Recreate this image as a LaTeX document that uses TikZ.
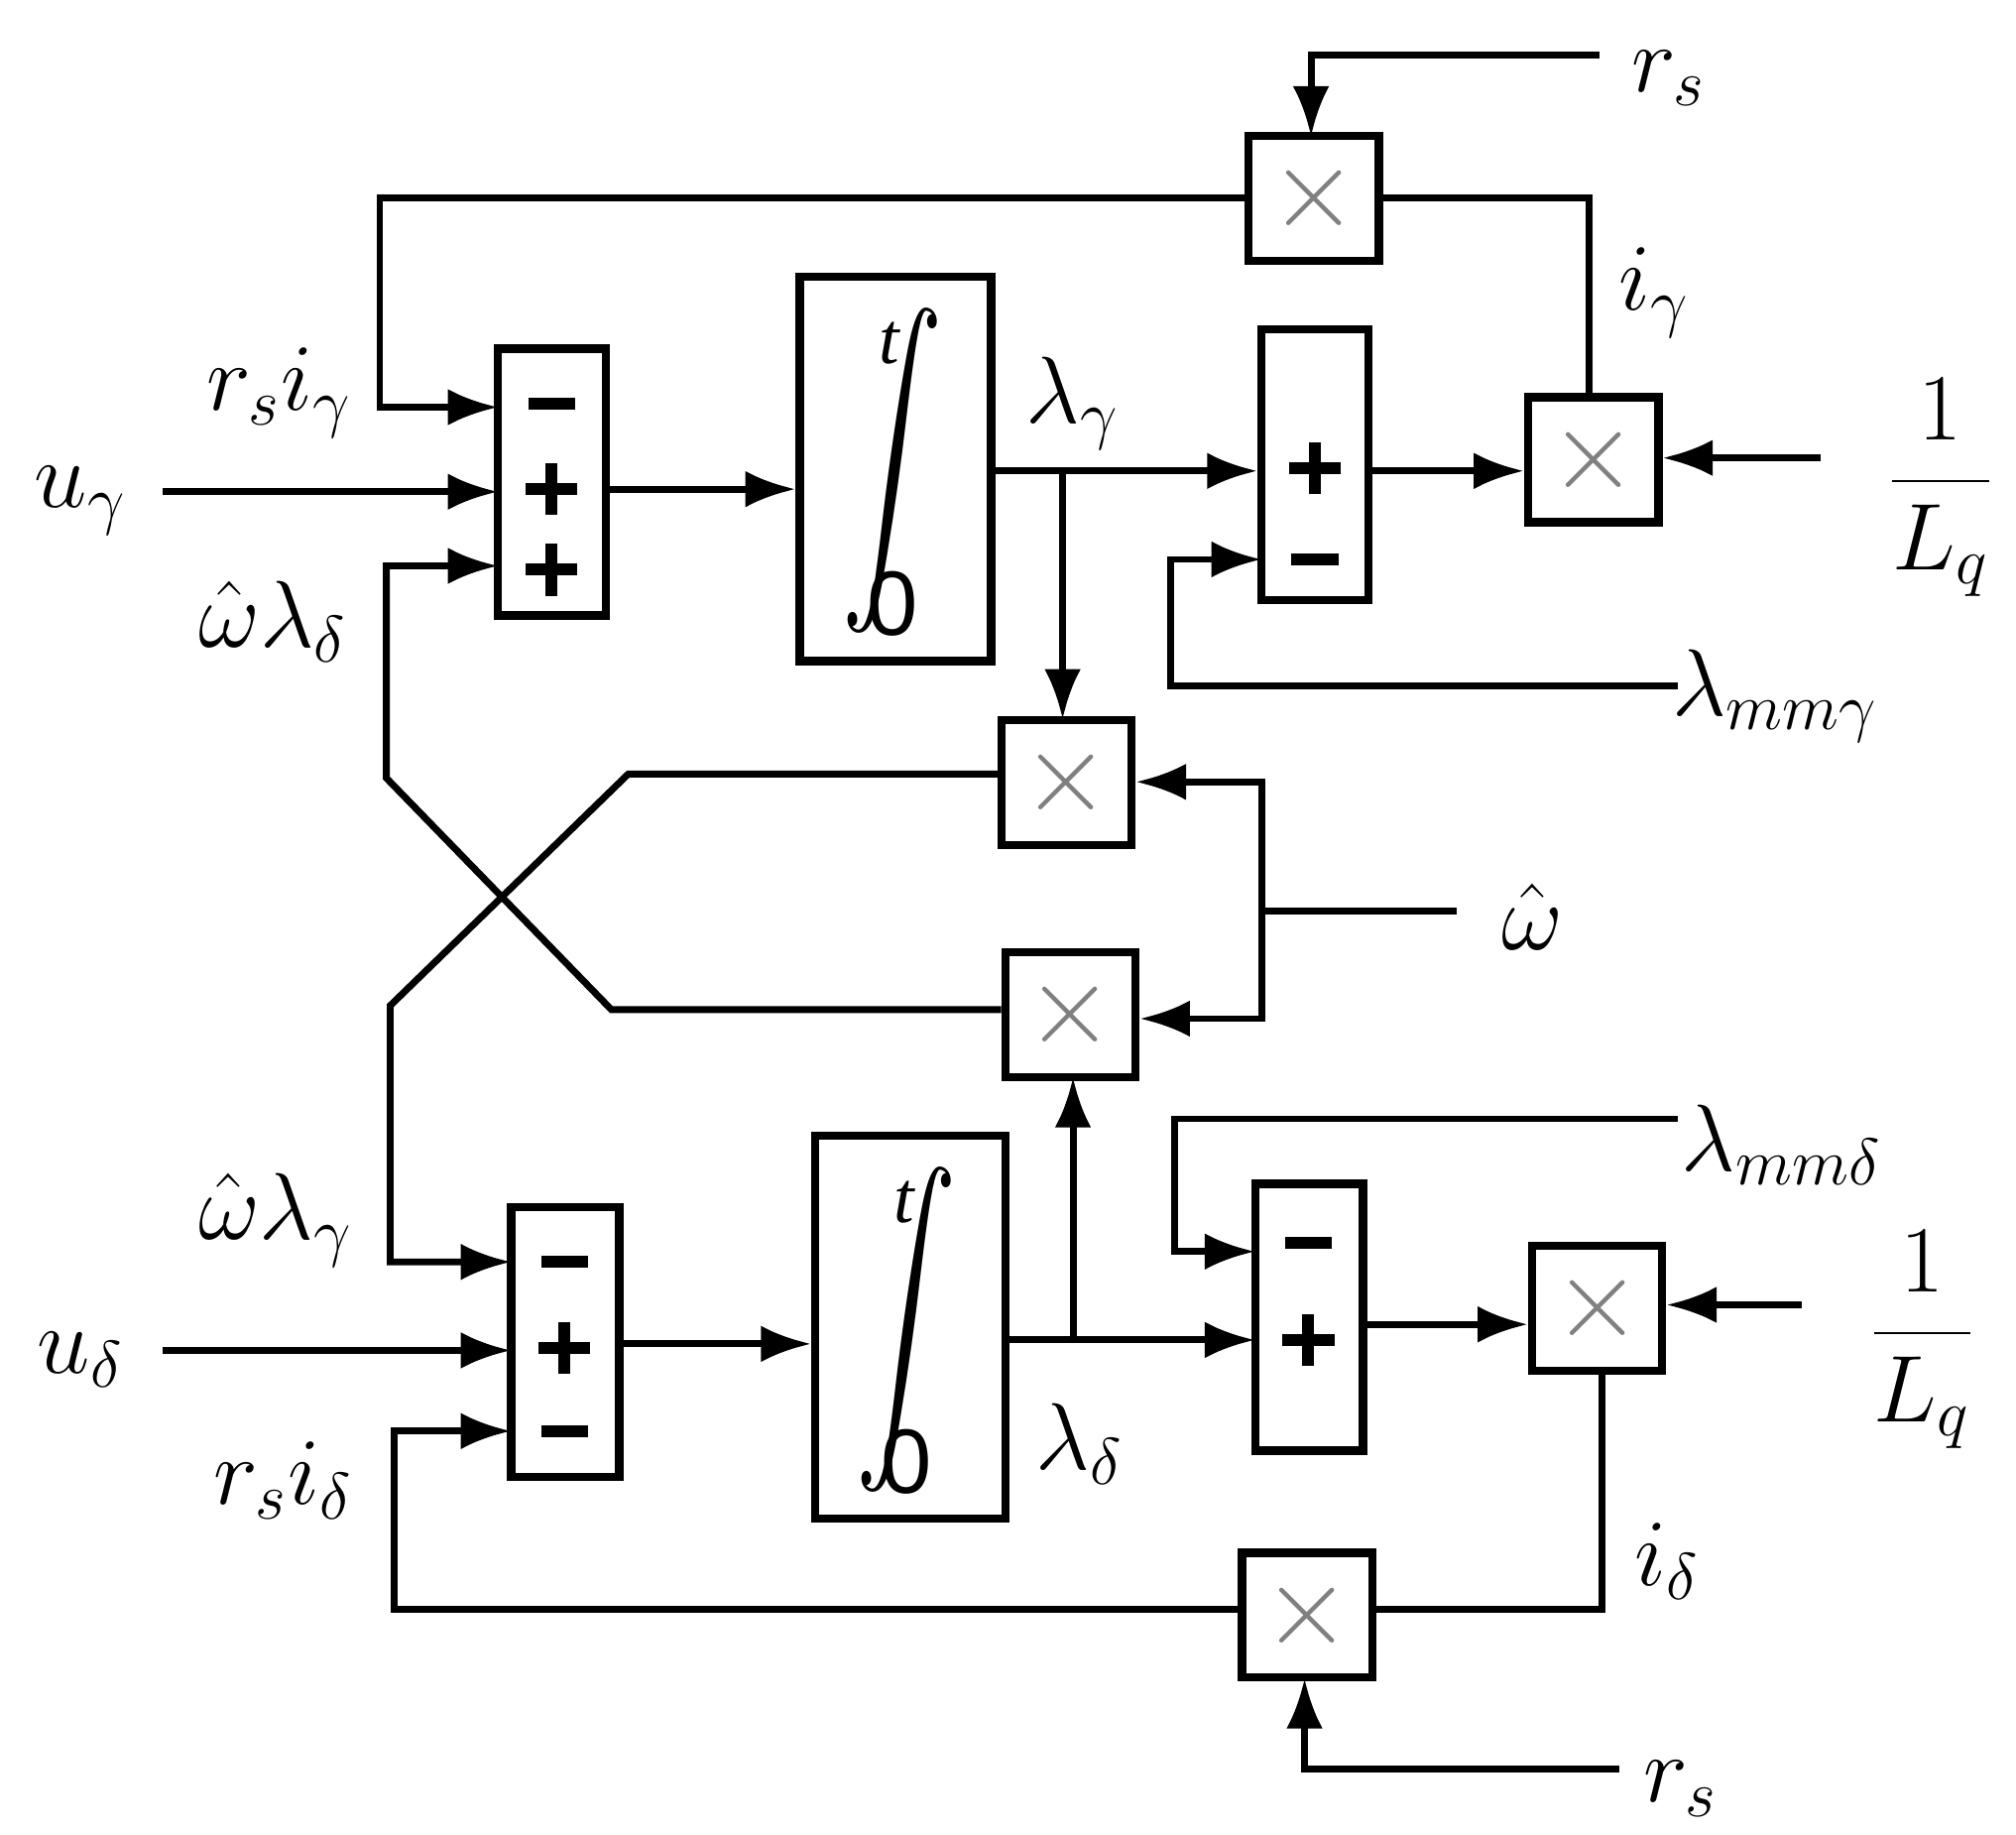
\documentclass[tikz,border=0pt]{standalone}
\usepackage{fontspec}
\setmainfont{Liberation Serif}
\newfontfamily\sgn{Liberation Sans}
\usetikzlibrary{arrows.meta}
\begin{document}
\begin{tikzpicture}[x={(0.01cm,0)},y={(0,-0.01cm)},line width=1.5pt,
 box/.style={draw,line width=1.8pt,inner sep=0pt},
 mul/.style={box,minimum width=1cm,minimum height=0.96cm,font=\fontsize{30}{30}\selectfont\color{gray}},
 ar/.style={-{Latex[length=11pt,width=8pt]}},
 lab/.style={font=\fontsize{22}{26}\selectfont\itshape},
 plus/.pic={\draw[line width=2.6pt] (-20,0)--(20,0) (0,-20)--(0,20);},
 minus/.pic={\draw[line width=2.6pt] (-18,0)--(18,0);},
 integ/.pic={\node[font=\fontsize{16}{16}\selectfont\itshape] at (-4,-98) {t};
   \node at (-2,0) {\scalebox{2.2}[3.2]{$\displaystyle\int$}};
   \node[font=\sgn\fontsize{20}{20}\selectfont] at (-2,102) {0};}]
\useasboundingbox (0,0) rectangle (1550,1410);
% blocks top
\node[box,minimum width=0.83cm,minimum height=2.05cm] (s1) at (424.5,370.5) {};
\pic at (424,310) {minus}; \pic at (424,376) {plus}; \pic at (424,438) {plus};
\node[box,minimum width=1.47cm,minimum height=2.95cm] (i1) at (688.5,360.5) {};
\pic at (688,362) {integ};
\node[box,minimum width=0.82cm,minimum height=2.08cm] (s2) at (1011,357) {};
\pic at (1011,360) {plus}; \pic at (1011,430) {minus};
\node[mul] (m1) at (1225,353.5) {$\times$};
\node[mul] (mr1) at (1010,152.5) {$\times$};
\node[mul] (mc1) at (820,601.5) {$\times$};
\node[mul] (mc2) at (823,780) {$\times$};
% bottom
\node[box,minimum width=0.83cm,minimum height=2.07cm] (s3) at (434.5,1031.5) {};
\pic at (434,970) {minus}; \pic at (434,1036) {plus}; \pic at (434,1100) {minus};
\node[box,minimum width=1.46cm,minimum height=2.94cm] (i2) at (700,1020) {};
\pic at (699,1022) {integ};
\node[box,minimum width=0.83cm,minimum height=2.05cm] (s4) at (1006.5,1012.5) {};
\pic at (1006,955) {minus}; \pic at (1006,1030) {plus};
\node[mul] (m2) at (1228,1005.5) {$\times$};
\node[mul] (mr2) at (1005,1241.5) {$\times$};
% labels
\node[lab] at (215,302) {$r_s i_\gamma$};
\node[lab] at (62,385) {$u_\gamma$};
\node[lab] at (210,478) {$\hat\omega\lambda_\delta$};
\node[lab] at (212,938) {$\hat\omega\lambda_\gamma$};
\node[lab] at (62,1045) {$u_\delta$};
\node[lab] at (218,1138) {$r_s i_\delta$};
\node[lab] at (825,310) {$\lambda_\gamma$};
\node[lab] at (830,1110) {$\lambda_\delta$};
\node[lab] at (1272,225) {$i_\gamma$};
\node[lab] at (1282,1200) {$i_\delta$};
\node[lab] at (1283,60) {$r_s$};
\node[lab] at (1292,1375) {$r_s$};
\node[lab] at (1365,535) {$\lambda_{mm\gamma}$};
\node[lab] at (1370,880) {$\lambda_{mm\delta}$};
\node[lab] at (1178,705) {$\hat\omega$};
\node[lab] (L1) at (1492,375) {$\displaystyle\frac{1}{L_q}$};
\node[lab] (L2) at (1478,1030) {$\displaystyle\frac{1}{L_q}$};
% top wiring
\draw[ar] (125,378) -- (383,378);
\draw[ar] (466,376) -- (i1.west |- 0,376);
\draw[ar] (i1.east |- 0,362) -- (s2.west |- 0,362);
\draw[ar] (s2.east |- 0,362) -- (m1.west |- 0,362);
\draw[ar] (1400,352) -- (m1.east |- 0,352);
\draw (m1.north -| 1222,0) -- (1222,152) -- (mr1.east |- 0,152);
\draw[ar] (mr1.west |- 0,152) -- (292,152) -- (292,313) -- (383,313);
\draw[ar] (1230,42) -- (1008,42) -- (1008,105);
\draw[ar] (1290,527) -- (900,527) -- (900,430) -- (970,430);
\draw[ar] (817,362) -- (817,553);
% omega
\draw (1120,700) -- (970,700);
\draw[ar] (970,700) -- (970,601) -- (mc1.east |- 0,601);
\draw[ar] (970,700) -- (970,783) -- (mc2.east |- 0,783);
% cross
\draw[ar] (mc1.west |- 0,595) -- (483,595) -- (300,773) -- (300,970) -- (393,970);
\draw[ar] (mc2.west |- 0,776) -- (470,776) -- (297,598) -- (297,435) -- (383,435);
% bottom wiring
\draw[ar] (125,1038) -- (393,1038);
\draw[ar] (476,1033) -- (i2.west |- 0,1033);
\draw[ar] (i2.east |- 0,1030) -- (965,1030);
\draw[ar] (825,1030) -- (825,828);
\draw[ar] (1290,860) -- (903,860) -- (903,962) -- (965,962);
\draw[ar] (s4.east |- 0,1018) -- (m2.west |- 0,1018);
\draw[ar] (1385,1003) -- (m2.east |- 0,1003);
\draw (m2.south -| 1232,0) -- (1232,1237) -- (mr2.east |- 0,1237);
\draw[ar] (mr2.west |- 0,1237) -- (303,1237) -- (303,1100) -- (393,1100);
\draw[ar] (1245,1360) -- (1003,1360) -- (1003,1290);
\end{tikzpicture}
\end{document}
